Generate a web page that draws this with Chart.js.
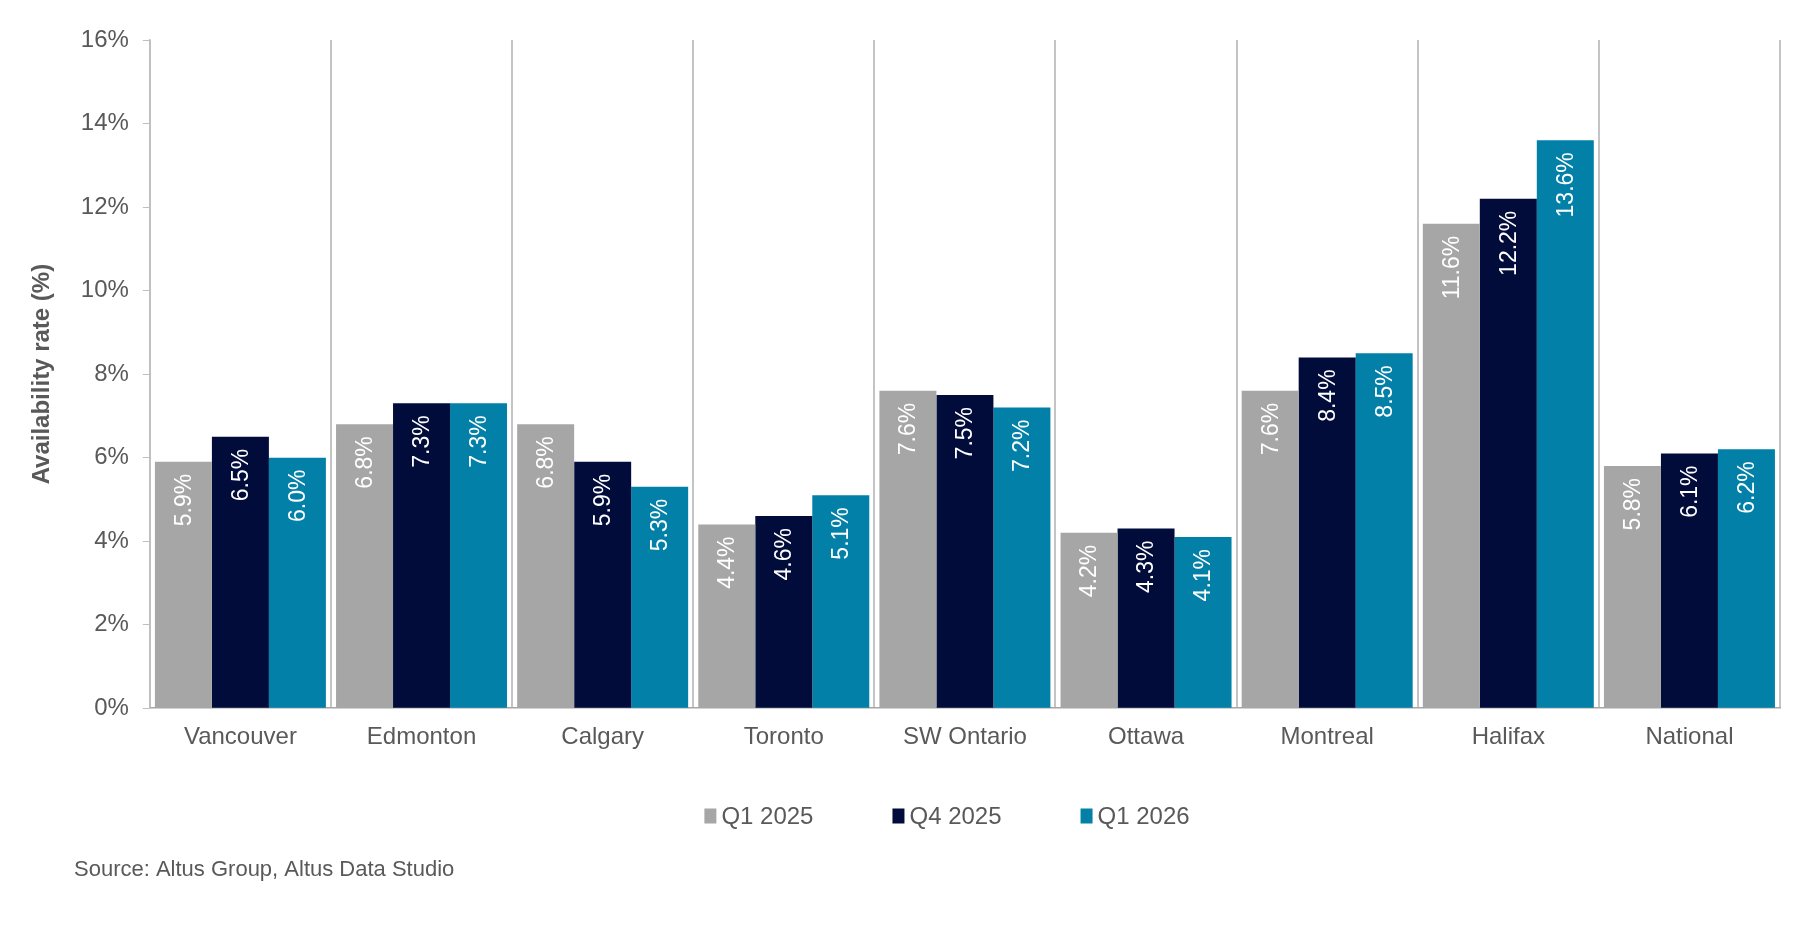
<!DOCTYPE html>
<html>
<head>
<meta charset="utf-8">
<script src="https://cdn.jsdelivr.net/npm/chart.js@4.4.1/dist/chart.umd.min.js"></script>
<style>
  html, body { margin: 0; padding: 0; background: #ffffff; }
  #wrap { width: 1814px; height: 927px; position: relative; }
  canvas { display: block; }
</style>
</head>
<body>
<div id="wrap"><canvas id="c" width="1814" height="927"></canvas></div>
<script>
// ---- Data ----
const categories = ['Vancouver', 'Edmonton', 'Calgary', 'Toronto', 'SW Ontario', 'Ottawa', 'Montreal', 'Halifax', 'National'];
const seriesNames = ['Q1 2025', 'Q4 2025', 'Q1 2026'];
const q1_2025 = [5.9, 6.8, 6.8, 4.4, 7.6, 4.2, 7.6, 11.6, 5.8];
const q4_2025 = [6.5, 7.3, 5.9, 4.6, 7.5, 4.3, 8.4, 12.2, 6.1];
const q1_2026 = [6.0, 7.3, 5.3, 5.1, 7.2, 4.1, 8.5, 13.6, 6.2];
const yTickValues = [0, 2, 4, 6, 8, 10, 12, 14, 16];
const yAxisTitle = 'Availability rate (%)';
const sourceText = 'Source: Altus Group, Altus Data Studio';

// ---- Styles ----
const colors = ['#a6a6a6', '#010c3b', '#0280a8'];
const textColor = '#595959';
const fontFamily = '"Liberation Sans", Arial, Helvetica, sans-serif';

// Value labels drawn rotated inside the top of each bar
const barLabelPlugin = {
  id: 'barLabels',
  afterDatasetsDraw(chart) {
    const ctx = chart.ctx;
    ctx.save();
    ctx.font = '23px ' + fontFamily;
    ctx.fillStyle = '#ffffff';
    ctx.textAlign = 'right';
    ctx.textBaseline = 'middle';
    chart.data.datasets.forEach((ds, di) => {
      const meta = chart.getDatasetMeta(di);
      meta.data.forEach((bar, i) => {
        const v = ds.data[i];
        ctx.save();
        ctx.translate(bar.x, bar.y + 12);
        ctx.rotate(-Math.PI / 2);
        ctx.fillText(v.toFixed(1) + '%', 0, 1);
        ctx.restore();
      });
    });
    ctx.restore();
  }
};

// Legend and source note
const legendSourcePlugin = {
  id: 'legendSource',
  afterDraw(chart) {
    const ctx = chart.ctx;
    ctx.save();
    ctx.font = '24px ' + fontFamily;
    ctx.textBaseline = 'middle';
    ctx.textAlign = 'left';
    const boxW = 12, boxH = 15, boxGap = 5, itemGap = 79;
    const items = chart.data.datasets.map(ds => ({ text: ds.label, color: ds.backgroundColor }));
    const widths = items.map(it => boxW + boxGap + ctx.measureText(it.text).width);
    const total = widths.reduce((a, b) => a + b, 0) + itemGap * (items.length - 1);
    let x = 947 - total / 2;
    const yc = 816;
    items.forEach((it, i) => {
      ctx.fillStyle = it.color;
      ctx.fillRect(x, yc - boxH / 2, boxW, boxH);
      ctx.fillStyle = textColor;
      ctx.fillText(it.text, x + boxW + boxGap, yc + 1);
      x += widths[i] + itemGap;
    });
    ctx.font = '22px ' + fontFamily;
    ctx.fillStyle = textColor;
    ctx.fillText(sourceText, 74, 870);
    ctx.restore();
  }
};

const datasets = [q1_2025, q4_2025, q1_2026].map((d, i) => ({
  label: seriesNames[i],
  data: d,
  backgroundColor: colors[i],
  borderWidth: 0,
  categoryPercentage: 0.944,
  barPercentage: 1.0
}));

new Chart(document.getElementById('c'), {
  type: 'bar',
  data: { labels: categories, datasets: datasets },
  options: {
    responsive: false,
    animation: false,
    devicePixelRatio: 1,
    layout: { padding: { left: 28, top: 40, right: 34, bottom: 160 } },
    plugins: {
      legend: { display: false },
      tooltip: { enabled: false }
    },
    scales: {
      x: {
        grid: {
          display: true,
          offset: true,
          drawOnChartArea: true,
          drawTicks: false,
          color: '#c4c4c4',
          lineWidth: 2
        },
        border: { display: true, color: '#a6a6a6', width: 1.5 },
        ticks: {
          color: textColor,
          font: { family: fontFamily, size: 24 },
          padding: 15
        }
      },
      y: {
        min: 0,
        max: 16,
        afterBuildTicks(axis) { axis.ticks = yTickValues.map(v => ({ value: v })); },
        grid: {
          display: true,
          drawOnChartArea: false,
          drawTicks: true,
          tickLength: 7,
          color: '#bfbfbf',
          lineWidth: 1
        },
        border: { display: true, color: '#bfbfbf', width: 1.5 },
        ticks: {
          color: textColor,
          font: { family: fontFamily, size: 24 },
          padding: 14,
          callback: v => v + '%'
        },
        title: {
          display: true,
          text: yAxisTitle,
          color: textColor,
          font: { family: fontFamily, size: 24, weight: 'bold' },
          padding: { top: 0, bottom: 10 }
        }
      }
    }
  },
  plugins: [barLabelPlugin, legendSourcePlugin]
});
</script>
</body>
</html>
